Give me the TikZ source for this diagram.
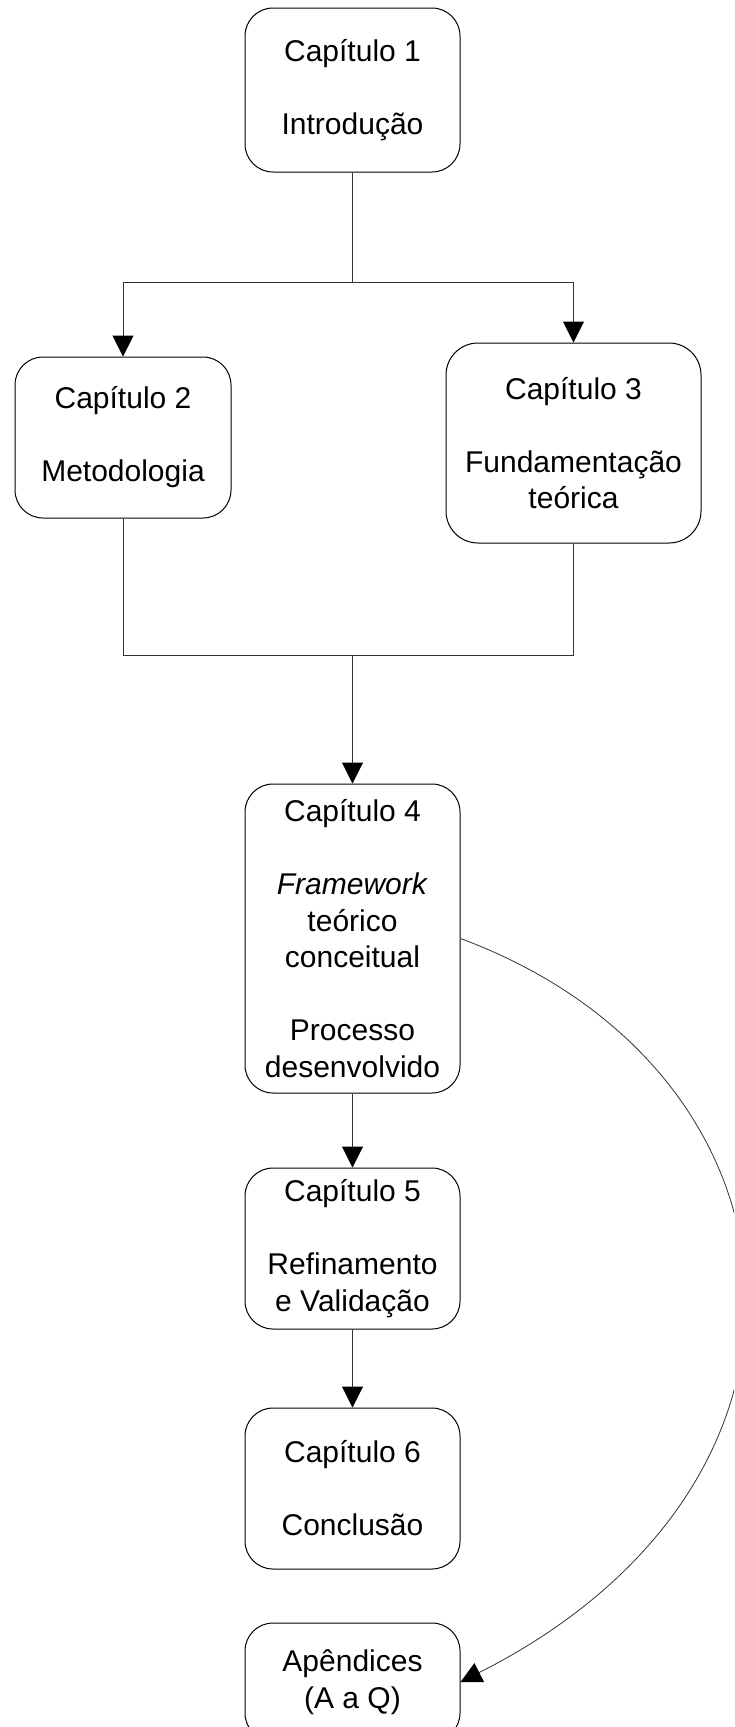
\documentclass[tikz,border=0pt]{standalone}
\usepackage{fontspec}
\setmainfont{Liberation Sans}
\usetikzlibrary{arrows.meta}

\newcommand{\chapfont}{\fontsize{30pt}{36.5pt}\selectfont}

\tikzset{
  chapbox/.style={draw=black, line width=1pt, rounded corners=28pt,
    align=center, inner sep=0pt, font=\chapfont, fill=white},
  link/.style={draw=black!80, line width=1pt},
  arrowlink/.style={link, -{Triangle[width=21pt,length=21pt,black]}},
}

\begin{document}
\begin{tikzpicture}[x=1pt, y=-1pt]
  \useasboundingbox (0,0) rectangle (734,1727);
  \clip (0,0) rectangle (734,1727);
  \fill[white] (0,0) rectangle (734,1727);

  % chapter boxes
  \node[chapbox, minimum width=215pt, minimum height=164pt] (b1) at (352.5,90)
    {Capítulo 1\\[36.5pt]Introdução};
  \node[chapbox, minimum width=216pt, minimum height=161pt] (b2) at (123,437.5)
    {Capítulo 2\\[36.5pt]Metodologia};
  \node[chapbox, minimum width=255pt, minimum height=200pt, rounded corners=32pt] (b3) at (573.5,443)
    {Capítulo 3\\[36.5pt]Fundamentação\\teórica};
  \node[chapbox, minimum width=215pt, minimum height=309pt] (b4) at (352.5,938.5)
    {Capítulo 4\\[36.5pt]\textit{Framework}\\teórico\\conceitual\\[36.5pt]Processo\\desenvolvido};
  \node[chapbox, minimum width=215pt, minimum height=161pt] (b5) at (352.5,1248.5)
    {Capítulo 5\\[36.5pt]Refinamento\\e Validação};
  \node[chapbox, minimum width=215pt, minimum height=161pt] (b6) at (352.5,1488.5)
    {Capítulo 6\\[36.5pt]Conclusão};
  \node[chapbox, minimum width=215pt, minimum height=118pt] (b7) at (352.5,1682)
    {Apêndices\\(A a Q)};

  % branch and join points
  \coordinate (split) at (352.5,282);
  \coordinate (join) at (352.5,655);

  \draw[link] (b1.south) -- (split);
  \draw[arrowlink] (split) -| (b2.north);
  \draw[arrowlink] (split) -| (b3.north);

  \draw[link] (b2.south) |- (join);
  \draw[link] (b3.south) |- (join);
  \draw[arrowlink] (join) -- (b4.north);

  \draw[arrowlink] (b4.south) -- (b5.north);
  \draw[arrowlink] (b5.south) -- (b6.north);

  % curved link to the appendices
  \draw[arrowlink, line width=0.8pt] (b4.east) .. controls (815,1070) and (860,1480) .. (b7.east);
\end{tikzpicture}
\end{document}
